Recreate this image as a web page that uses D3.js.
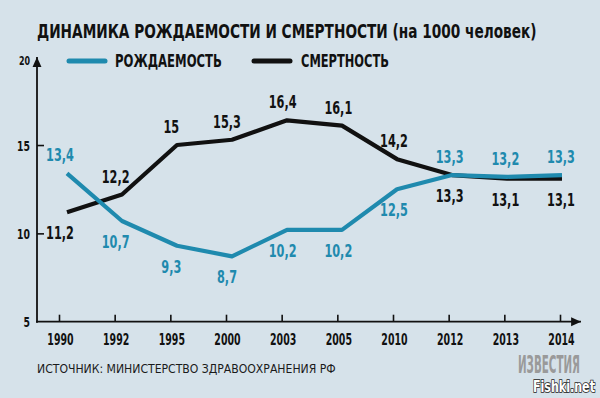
<!DOCTYPE html>
<html>
<head>
<meta charset="utf-8">
<script src="https://cdn.jsdelivr.net/npm/d3@7"></script>
<style>
  html, body { margin: 0; padding: 0; background: #d6e2ea; }
  svg { display: block; }
  text { font-family: "Liberation Sans Narrow", "DejaVu Sans Condensed", "Roboto Condensed", sans-serif; }
</style>
</head>
<body>
<svg id="chart" width="600" height="398"></svg>
<script>
const years = ["1990", "1992", "1995", "2000", "2003", "2005", "2010", "2012", "2013", "2014"];
const birthRate = [13.4, 10.7, 9.3, 8.7, 10.2, 10.2, 12.5, 13.3, 13.2, 13.3];
const deathRate = [11.2, 12.2, 15, 15.3, 16.4, 16.1, 14.2, 13.3, 13.1, 13.1];
const yTicks = [5, 10, 15, 20];
const seriesNames = ["РОЖДАЕМОСТЬ", "СМЕРТНОСТЬ"];

const blue = "#1f8aae";
const black = "#111111";

const svg = d3.select("#chart");

// The source uses a tall condensed face; squeeze the installed font horizontally
function squeeze(sel, x, y, k) {
  sel.attr("x", 0).attr("y", 0).attr("transform", `translate(${x},${y}) scale(${k},1)`);
}
function fitWidth(sel, x, y, w) {
  const natural = sel.node().getComputedTextLength();
  squeeze(sel, x, y, Math.min(1, w / natural));
}

// Axis positions sit a few px left of the data points
const xAxisScale = d3.scalePoint().domain(years).range([59, 560]);
const xData = d3.scalePoint().domain(years).range([67, 562]);
const y = d3.scaleLinear().domain([5, 20]).range([321.7, 56.7]);
const axisX = 37;
const axisY = y(5);

// Title
svg.append("text")
  .attr("font-size", 20)
  .attr("font-weight", 700)
  .attr("fill", black)
  .text("ДИНАМИКА РОЖДАЕМОСТИ И СМЕРТНОСТИ (на 1000 человек)")
  .call(fitWidth, 37, 38, 500);

// Legend
const legendItems = [
  { label: seriesNames[0], color: blue, x: 67, textX: 115, textW: 107 },
  { label: seriesNames[1], color: black, x: 252, textX: 301, textW: 88 },
];
legendItems.forEach((item) => {
  svg.append("line")
    .attr("x1", item.x + 2).attr("x2", item.x + 38)
    .attr("y1", 61).attr("y2", 61)
    .attr("stroke", item.color)
    .attr("stroke-width", 5)
    .attr("stroke-linecap", "round");
  svg.append("text")
    .attr("font-size", 18)
    .attr("font-weight", 700)
    .attr("fill", black)
    .text(item.label)
    .call(fitWidth, item.textX, 67, item.textW);
});

// Arrowheads
const defs = svg.append("defs");
defs.append("marker")
  .attr("id", "arrow")
  .attr("viewBox", "0 -5 10 10")
  .attr("refX", 10)
  .attr("refY", 0)
  .attr("markerWidth", 5.5)
  .attr("markerHeight", 5.5)
  .attr("markerUnits", "strokeWidth")
  .attr("orient", "auto")
  .append("path")
  .attr("d", "M0,-4.5L10,0L0,4.5Z")
  .attr("fill", black);

// Y axis
const yAxis = svg.append("g")
  .attr("transform", `translate(${axisX},0)`)
  .call(d3.axisLeft(y).tickValues(yTicks).tickSize(-7).tickPadding(7));
yAxis.select(".domain").remove();
yAxis.selectAll(".tick line")
  .attr("stroke", black)
  .attr("stroke-width", 1.6)
  .attr("display", (d) => (d === 5 || d === 20 ? "none" : null));
yAxis.selectAll(".tick text")
  .attr("font-size", (d) => (d === 20 ? 12 : 14))
  .attr("font-weight", 700)
  .attr("fill", black)
  .attr("font-family", null)
  .attr("dy", null)
  .each(function (d) {
    squeeze(d3.select(this), -7, d === 20 ? 8 : 5, 0.74);
  });

svg.append("line")
  .attr("x1", axisX).attr("x2", axisX)
  .attr("y1", axisY + 1).attr("y2", 57)
  .attr("stroke", black)
  .attr("stroke-width", 1.8)
  .attr("marker-end", "url(#arrow)");

// X axis
const xAxis = svg.append("g")
  .attr("transform", `translate(0,${axisY})`)
  .call(d3.axisBottom(xAxisScale).tickSize(-7).tickPadding(13));
xAxis.select(".domain").remove();
xAxis.selectAll(".tick line").attr("stroke", black).attr("stroke-width", 1.6);
xAxis.selectAll(".tick text")
  .attr("font-size", 15)
  .attr("font-weight", 700)
  .attr("fill", black)
  .attr("font-family", null)
  .attr("dy", null)
  .each(function () {
    squeeze(d3.select(this), 1, 23, 0.7);
  });

svg.append("line")
  .attr("x1", axisX - 1).attr("x2", 581)
  .attr("y1", axisY).attr("y2", axisY)
  .attr("stroke", black)
  .attr("stroke-width", 1.8)
  .attr("marker-end", "url(#arrow)");

// Lines
const line = d3.line()
  .x((d, i) => xData(years[i]))
  .y((d) => y(d));

const series = [
  { values: deathRate, color: black },
  { values: birthRate, color: blue },
];
series.forEach((s) => {
  svg.append("path")
    .datum(s.values)
    .attr("fill", "none")
    .attr("stroke", s.color)
    .attr("stroke-width", 4.2)
    .attr("stroke-linejoin", "round")
    .attr("d", line);
});

// Value labels: higher series above, lower below (birth rate above on ties)
const fmt = (v) => String(v).replace(".", ",");
years.forEach((yr, i) => {
  const birthAbove = birthRate[i] >= deathRate[i];
  const labels = [
    { v: birthRate[i], color: blue, above: birthAbove },
    { v: deathRate[i], color: black, above: !birthAbove },
  ];
  labels.forEach((l) => {
    svg.append("text")
      .attr("text-anchor", "middle")
      .attr("font-size", 18.5)
      .attr("font-weight", 700)
      .attr("fill", l.color)
      .text(fmt(l.v))
      .call(squeeze, xAxisScale(yr) + 1, y(l.v) + (l.above ? -12 : 27), 0.68);
  });
});

// Source
svg.append("text")
  .attr("font-size", 13)
  .attr("fill", "#1a1a1a")
  .text("ИСТОЧНИК: МИНИСТЕРСТВО ЗДРАВООХРАНЕНИЯ РФ")
  .call(fitWidth, 37, 373, 299);

// Publisher mark
svg.append("text")
  .attr("font-size", 25)
  .attr("font-weight", 700)
  .attr("fill", "#9a9a9a")
  .text("ИЗВЕСТИЯ")
  .call(fitWidth, 518, 373, 62);

svg.append("text")
  .attr("font-size", 16)
  .attr("font-weight", 700)
  .attr("fill", "#ffffff")
  .attr("stroke", "#222")
  .attr("stroke-width", 1.6)
  .attr("paint-order", "stroke")
  .text("Fishki.net")
  .call(fitWidth, 533, 392, 62);
</script>
</body>
</html>
